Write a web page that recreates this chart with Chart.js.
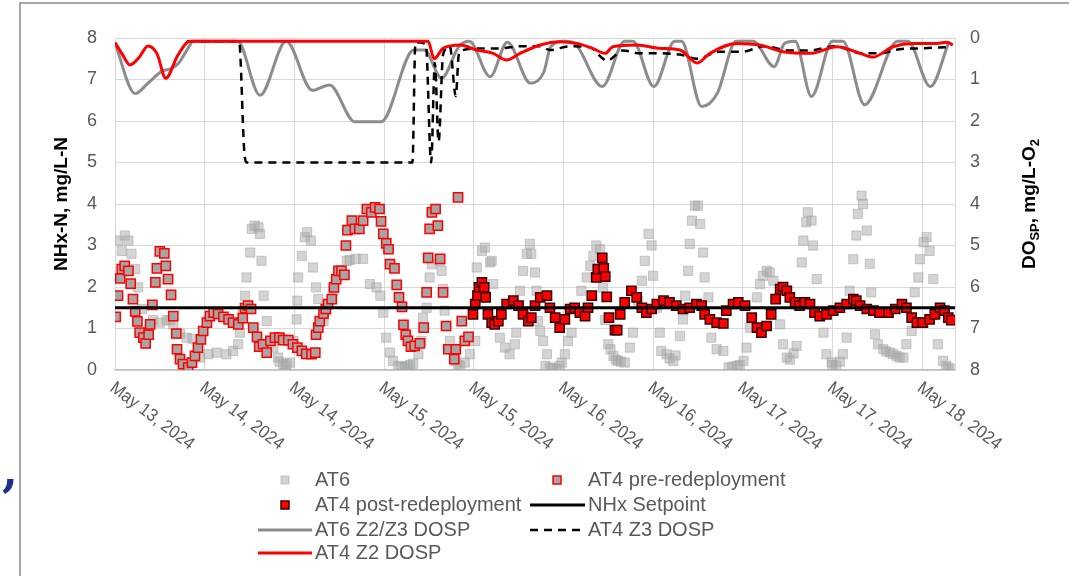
<!DOCTYPE html>
<html>
<head>
<meta charset="utf-8">
<script src="https://cdn.jsdelivr.net/npm/chart.js@4.4.1/dist/chart.umd.min.js"></script>
<style>
  html, body { margin: 0; padding: 0; background: #fff; }
  canvas { display: block; }
</style>
</head>
<body>
<canvas id="myChart" width="1069" height="576"></canvas>
<script>
// x values are hours after May 13, 2024 12:00
const tickHours = [0, 12, 24, 36, 48, 60, 72, 84, 96, 108];
const tickLabels = ["May 13, 2024", "May 14, 2024", "May 14, 2024", "May 15, 2024", "May 15, 2024",
                    "May 16, 2024", "May 16, 2024", "May 17, 2024", "May 17, 2024", "May 18, 2024"];
const xMax = 112.4;
const yTicks = [0, 1, 2, 3, 4, 5, 6, 7, 8];

// NHx-N, mg/L-N  [hour, value]
const at6 = [
  [0.4,3.12],[0.9,2.87],[1.3,3.24],[1.8,3.12],[2.2,2.8],[2.7,2.43],[3.1,1.99],[3.6,1.47],
  [5.1,1.2],[6.0,1.14],[6.9,1.2],[7.4,1.2],[7.8,1.1],[8.7,0.87],[9.6,0.78],[10.4,0.75],
  [11.4,0.3],[12.5,0.38],[13.6,0.42],[14.9,0.38],[15.8,0.46],[16.5,0.62],[16.7,0.9],[17.1,1.38],
  [17.4,1.79],[17.6,2.23],[18.1,2.83],[18.3,3.4],[18.7,3.48],[19.2,3.44],[19.4,3.28],[19.6,2.63],
  [19.9,1.79],[20.3,1.18],[21.2,0.54],[21.8,0.3],[22.0,0.2],[22.5,0.14],[22.8,0.1],[23.0,0.15],
  [23.4,0.18],[23.9,0.7],[24.3,1.22],[24.4,1.67],[24.5,2.23],[25.0,2.75],[25.4,3.2],[25.7,3.32],
  [26.2,3.12],[26.5,2.47],[26.9,1.99],[27.2,1.71],[27.9,1.18],[28.3,1.43],[28.6,1.59],[29.2,1.9],
  [30.1,2.3],[31.0,2.63],[31.4,2.65],[32.2,2.68],[33.2,2.68],[34.1,2.07],[35.0,1.99],[35.5,1.79],
  [35.9,1.38],[36.3,0.78],[36.8,0.42],[37.2,0.22],[37.9,0.1],[38.3,0.08],[38.8,0.06],[39.2,0.1],
  [39.5,0.12],[39.9,0.15],[40.6,0.38],[41.0,0.7],[41.2,1.26],[41.7,1.5],[42.1,2.23],[42.4,2.55],
  [43.5,2.63],[43.7,2.39],[43.9,1.95],[44.1,1.43],[44.8,0.7],[45.5,0.22],[45.9,0.12],[46.2,0.1],
  [46.8,0.18],[47.5,0.38],[48.2,0.7],[48.4,2.47],[49.1,2.87],[49.5,2.95],[50.2,2.59],[50.4,2.63],
  [50.6,2.07],[51.5,0.78],[52.2,0.54],[52.8,0.38],[53.5,0.62],[53.7,0.9],[54.2,1.91],[54.6,2.39],
  [55.1,2.8],[55.5,3.04],[55.7,2.8],[56.2,2.35],[56.4,1.91],[56.6,1.18],[56.9,0.94],[57.3,0.7],
  [57.6,0.1],[57.8,0.38],[58.2,0.06],[58.6,0.04],[59.1,0.02],[59.5,0.1],[59.8,0.18],[60.2,0.38],
  [60.6,0.7],[61.1,0.9],[62.4,1.91],[63.1,2.23],[63.6,2.51],[64.0,2.75],[64.4,3.0],[64.9,2.91],
  [65.3,1.99],[65.6,1.2],[66.0,0.62],[66.3,0.5],[66.7,0.34],[67.0,0.25],[67.3,0.22],[67.7,0.2],
  [68.2,0.18],[68.9,0.54],[69.3,0.9],[70.0,1.67],[70.5,2.15],[70.9,2.63],[71.4,3.28],[71.8,3.0],
  [72.0,2.27],[72.5,1.5],[72.9,0.9],[73.1,0.46],[73.8,0.38],[74.2,0.28],[74.7,0.22],[75.0,0.35],
  [75.6,0.82],[76.0,1.22],[76.3,1.79],[76.7,2.39],[76.9,3.04],[77.2,3.6],[77.6,3.96],[78.0,3.96],
  [78.3,3.52],[78.7,2.83],[78.9,2.23],[79.4,1.75],[79.8,0.78],[80.5,0.5],[81.4,0.46],[82.1,0.06],
  [82.6,0.08],[83.2,0.1],[83.6,0.12],[84.1,0.22],[84.5,0.54],[85.0,1.02],[85.9,1.75],[86.3,2.07],
  [86.7,2.27],[87.2,2.39],[87.6,2.35],[88.1,2.15],[89.0,1.1],[89.4,0.62],[89.9,0.3],[90.3,0.25],
  [90.8,0.4],[91.2,0.58],[91.9,2.59],[92.1,3.12],[92.5,3.56],[92.7,3.8],[93.2,3.6],[93.4,3.0],
  [93.9,2.19],[94.3,1.34],[94.8,0.9],[95.2,0.38],[95.9,0.18],[96.0,0.12],[96.5,0.1],[97.0,0.2],
  [97.4,0.38],[97.9,0.78],[98.3,1.91],[98.8,2.67],[99.2,3.24],[99.4,3.76],[99.9,4.2],[100.1,4.0],
  [100.6,3.36],[101.0,2.56],[101.2,1.87],[101.7,0.86],[102.1,0.62],[102.8,0.5],[103.2,0.45],[103.7,0.42],
  [104.1,0.38],[104.6,0.34],[105.0,0.3],[105.5,0.3],[105.9,0.62],[106.6,0.94],[107.0,1.87],[107.5,2.23],
  [107.7,2.67],[108.2,3.08],[108.6,3.2],[109.0,2.87],[109.5,2.19],[109.8,1.34],[110.1,0.62],[110.8,0.22],
  [111.2,0.1],[111.5,0.06],[112.0,0.02]
];

const at4Pre = [
  [0.1,1.28],[0.4,1.79],[0.7,2.21],[0.9,2.43],[1.3,2.51],[1.8,2.39],[2.1,2.08],[2.4,1.71],
  [2.7,1.41],[3.0,1.17],[3.3,0.9],[3.8,0.78],[4.1,0.64],[4.5,0.85],[4.7,1.1],[5.0,1.57],
  [5.4,2.11],[5.6,2.45],[6.0,2.86],[6.6,2.81],[6.8,2.51],[7.1,2.19],[7.5,1.81],[7.8,1.3],
  [8.2,0.88],[8.3,0.5],[8.7,0.26],[9.1,0.14],[9.8,0.06],[10.3,0.18],[10.7,0.34],[11.1,0.54],
  [11.5,0.74],[11.8,0.94],[12.3,1.14],[12.7,1.3],[13.2,1.38],[13.8,1.35],[14.5,1.28],[15.2,1.22],
  [15.8,1.14],[16.5,1.1],[17.1,1.25],[17.4,1.49],[17.8,1.55],[18.2,1.47],[18.5,1.02],[19.0,0.8],
  [19.3,0.56],[19.8,0.62],[20.3,0.42],[20.8,0.7],[21.4,0.78],[22.0,0.78],[22.5,0.72],[23.2,0.72],
  [23.8,0.62],[24.4,0.54],[25.0,0.46],[25.6,0.39],[26.3,0.38],[26.8,0.42],[26.9,0.85],[27.2,1.02],
  [27.4,1.18],[27.9,1.36],[28.2,1.47],[28.5,1.59],[29.0,1.71],[29.3,1.99],[29.6,2.19],[29.9,2.39],
  [30.3,2.39],[30.7,2.29],[30.9,3.0],[31.1,3.37],[31.7,3.6],[32.1,3.4],[32.7,3.4],[33.2,3.6],
  [33.7,3.88],[34.3,3.8],[34.8,3.92],[35.4,3.88],[35.6,3.58],[35.9,3.28],[36.3,3.05],[36.6,2.91],
  [36.8,2.55],[37.4,2.45],[37.7,2.05],[38.0,1.75],[38.4,1.52],[38.6,1.09],[38.9,0.85],[39.2,0.7],
  [39.6,0.56],[40.1,0.58],[40.8,0.64],[41.3,1.02],[41.7,1.87],[41.9,2.7],[42.1,3.4],[42.4,3.8],
  [42.9,3.88],[43.2,3.48],[43.5,2.68],[43.9,1.87],[44.3,1.06],[44.6,0.5],[45.4,0.26],[45.6,0.5],
  [45.9,4.16],[46.4,1.18],[46.8,0.7],[47.3,0.8]
];

const at4Post = [
  [47.9,1.34],[48.2,1.59],[48.5,1.79],[48.7,1.99],[49.1,2.11],[49.4,1.99],[49.6,1.75],[49.9,1.34],
  [50.4,1.14],[50.8,1.1],[51.3,1.18],[51.7,1.34],[52.4,1.59],[53.3,1.67],[54.0,1.55],[54.6,1.34],
  [55.3,1.18],[55.7,1.26],[56.2,1.55],[56.9,1.75],[57.8,1.79],[58.2,1.5],[58.9,1.26],[59.5,1.02],
  [60.2,1.22],[60.9,1.47],[61.5,1.5],[62.2,1.38],[62.9,1.3],[63.3,1.5],[63.8,1.79],[64.4,2.23],
  [64.6,2.43],[65.2,2.7],[65.4,2.45],[65.6,2.25],[65.8,1.76],[66.1,1.26],[66.9,0.96],[67.2,0.96],
  [67.6,1.34],[68.2,1.63],[69.1,1.91],[69.8,1.75],[70.5,1.5],[71.1,1.38],[71.8,1.47],[72.5,1.59],
  [73.4,1.67],[74.2,1.63],[75.1,1.55],[76.0,1.47],[76.9,1.5],[77.8,1.59],[78.5,1.55],[78.9,1.34],
  [79.6,1.22],[80.5,1.14],[81.4,1.12],[81.8,1.43],[82.7,1.59],[83.4,1.63],[84.3,1.55],[85.2,1.26],
  [85.9,1.02],[86.5,0.9],[87.2,1.06],[87.8,1.34],[88.4,1.71],[89.0,1.95],[89.4,2.0],[89.9,1.91],
  [90.3,1.75],[91.0,1.63],[91.6,1.55],[92.3,1.63],[93.0,1.59],[93.6,1.38],[94.3,1.3],[95.2,1.34],
  [96.1,1.43],[97.0,1.5],[97.9,1.59],[98.8,1.71],[99.2,1.67],[99.7,1.55],[100.6,1.47],[101.5,1.43],
  [102.3,1.38],[103.5,1.38],[104.4,1.47],[105.3,1.59],[105.9,1.5],[106.6,1.26],[107.3,1.14],[108.1,1.14],
  [109.0,1.22],[109.7,1.34],[110.4,1.5],[111.0,1.43],[111.5,1.26],[111.9,1.2]
];

const setpoint = [[0,1.5],[112.4,1.5]];

// DO setpoints, mg/L-O2 (right axis, reversed)
const at6Do = [
  [0,0.13],[2.7,1.34],[4.4,1.09],[6.2,0.81],[7.6,0.73],[8.5,0.61],[9.9,0.21],[10.4,0.08],
  [16.4,0.08],[19.4,1.38],[22.9,0.08],[26.4,1.26],[28.7,1.13],[32.1,2.02],[35.6,2.02],[40.0,0.29],
  [41.4,0.29],[43.7,0.97],[46.0,0.21],[47.4,0.08],[50.2,0.93],[52.5,0.1],[55.6,1.09],[57.4,0.81],
  [58.3,0.21],[60.2,0.08],[61.5,0.13],[65.2,1.17],[68.2,0.08],[69.3,0.08],[72.1,1.17],[74.9,0.08],
  [75.8,0.08],[78.5,1.65],[80.6,1.33],[83.1,0.08],[85.4,0.08],[88.2,0.69],[89.6,0.13],[91.0,0.08],
  [93.2,1.41],[96.0,0.08],[97.4,0.08],[100.3,1.61],[104.7,0.08],[106.1,0.08],[109.1,1.17],[111.6,0.08]
];

const at4Z3Do = [
  [9.6,0.08],[16.6,0.08],[17.3,2.74],[17.6,3.0],[39.8,3.0],[40.2,0.1],[41.6,0.15],[42.3,3.0],
  [42.8,0.6],[43.3,2.5],[43.9,0.4],[44.8,0.2],[45.6,1.4],[46.0,0.4],[46.4,0.3],[48.8,0.25],
  [51.5,0.25],[54.2,0.2],[56.9,0.2],[58.2,0.29],[60.9,0.2],[63.5,0.22],[65.3,0.5],[65.8,0.55],
  [68.0,0.3],[70.2,0.37],[72.9,0.37],[75.6,0.4],[77.9,0.5],[80.9,0.33],[83.9,0.33],[86.9,0.2],
  [90.3,0.3],[93.0,0.3],[96.3,0.2],[100.0,0.37],[102.3,0.37],[105.0,0.27],[107.7,0.25],[111.4,0.22]
];

const at4Z2Do = [
  [0,0.11],[1.0,0.4],[2.0,0.65],[3.3,0.45],[4.4,0.19],[5.6,0.37],[6.8,0.97],[8.3,0.45],
  [9.6,0.11],[10.0,0.08],[41.9,0.08],[42.7,0.5],[43.9,0.25],[46.2,0.17],[48.4,0.29],[50.6,0.37],
  [52.4,0.53],[54.2,0.37],[56.9,0.17],[59.5,0.09],[61.8,0.13],[63.9,0.25],[65.6,0.37],[66.6,0.21],
  [69.8,0.17],[72.9,0.25],[75.6,0.29],[77.9,0.6],[79.6,0.37],[83.2,0.13],[86.3,0.17],[89.4,0.33],
  [93.0,0.37],[96.6,0.21],[99.7,0.37],[101.4,0.46],[104.1,0.21],[106.8,0.13],[110.0,0.13],[111.3,0.1],
  [112.1,0.17]
];

const FONT = '"Liberation Sans", Arial, sans-serif';
const pts = a => a.map(p => ({ x: p[0], y: p[1] }));

const extras = {
  id: 'extras',
  afterDraw(chart) {
    const ctx = chart.ctx;
    const xs = chart.scales.x;
    const area = chart.chartArea;
    ctx.save();

    // outer frame
    ctx.strokeStyle = '#a6a6a6';
    ctx.lineWidth = 2;
    ctx.beginPath();
    ctx.moveTo(20, 576); ctx.lineTo(20, 3); ctx.lineTo(1069, 3);
    ctx.stroke();

    // stray mark at left
    ctx.fillStyle = '#1f2f8f';
    ctx.font = 'bold 46px "DejaVu Serif", serif';
    ctx.textAlign = 'left';
    ctx.textBaseline = 'alphabetic';
    ctx.fillText(',', 2, 486);

    // rotated date labels
    ctx.fillStyle = '#595959';
    ctx.font = '18px ' + FONT;
    ctx.textAlign = 'left';
    ctx.textBaseline = 'middle';
    tickHours.forEach((h, i) => {
      const px = xs.getPixelForValue(h);
      ctx.save();
      ctx.translate(px - 3, area.bottom + 16);
      ctx.rotate(37 * Math.PI / 180);
      ctx.scale(0.92, 1);
      ctx.fillText(tickLabels[i], 0, 0);
      ctx.restore();
    });

    // axis titles
    ctx.fillStyle = '#000';
    ctx.font = 'bold 19px ' + FONT;
    ctx.textAlign = 'center';
    ctx.save();
    ctx.translate(62, (area.top + area.bottom) / 2);
    ctx.rotate(-Math.PI / 2);
    ctx.fillText('NHx-N, mg/L-N', 0, 0);
    ctx.restore();

    const parts = [['DO', false], ['SP', true], [', mg/L-O', false], ['2', true]];
    const big = 'bold 19px ' + FONT, small = 'bold 13px ' + FONT;
    let total = 0;
    parts.forEach(p => { ctx.font = p[1] ? small : big; total += ctx.measureText(p[0]).width; });
    ctx.save();
    ctx.translate(1030, (area.top + area.bottom) / 2);
    ctx.rotate(-Math.PI / 2);
    ctx.textAlign = 'left';
    let cx = -total / 2;
    parts.forEach(p => {
      ctx.font = p[1] ? small : big;
      ctx.fillText(p[0], cx, p[1] ? 5 : 0);
      cx += ctx.measureText(p[0]).width;
    });
    ctx.restore();

    // legend
    const rowsY = [480, 505, 530, 553];
    const markX = [285, 557], lineX = [[258, 312], [530, 585]], textX = [315, 588];
    ctx.font = '20px ' + FONT;
    ctx.textBaseline = 'middle';
    chart.data.datasets.forEach((ds, i) => {
      const col = i % 2, y = rowsY[Math.floor(i / 2)];
      if (ds.showLine) {
        ctx.save();
        ctx.strokeStyle = ds.borderColor;
        ctx.lineWidth = ds.borderWidth;
        ctx.setLineDash(ds.borderDash || []);
        ctx.beginPath();
        ctx.moveTo(lineX[col][0], y); ctx.lineTo(lineX[col][1], y);
        ctx.stroke();
        ctx.restore();
      } else {
        const s = 8;
        ctx.fillStyle = ds.backgroundColor;
        ctx.fillRect(markX[col] - s / 2, y - s / 2, s, s);
        if (ds.borderWidth) {
          ctx.strokeStyle = ds.borderColor;
          ctx.lineWidth = ds.borderWidth;
          ctx.strokeRect(markX[col] - s / 2, y - s / 2, s, s);
        }
      }
      ctx.fillStyle = '#595959';
      ctx.textAlign = 'left';
      ctx.fillText(ds.label, textX[col], y);
    });
    ctx.restore();
  }
};

new Chart('myChart', {
  type: 'scatter',
  data: {
    datasets: [
      {
        label: 'AT6',
        data: pts(at6),
        yAxisID: 'y',
        pointStyle: 'rect',
        pointRadius: 6.5,
        backgroundColor: 'rgba(170,170,170,0.5)',
        borderColor: 'rgba(160,160,160,0.5)',
        borderWidth: 1,
        order: 6,
      },
      {
        label: 'AT4 pre-redeployment',
        data: pts(at4Pre),
        yAxisID: 'y',
        pointStyle: 'rect',
        pointRadius: 6.5,
        backgroundColor: '#a5a5a5',
        borderColor: '#ff0000',
        borderWidth: 1.5,
        order: 5,
      },
      {
        label: 'AT4 post-redeployment',
        data: pts(at4Post),
        yAxisID: 'y',
        pointStyle: 'rect',
        pointRadius: 6.5,
        backgroundColor: '#ff0000',
        borderColor: '#3a0000',
        borderWidth: 1.5,
        order: 4,
      },
      {
        label: 'NHx Setpoint',
        data: pts(setpoint),
        yAxisID: 'y',
        showLine: true,
        pointRadius: 0,
        borderColor: '#000000',
        borderWidth: 3,
        order: 0,
      },
      {
        label: 'AT6 Z2/Z3 DOSP',
        data: pts(at6Do),
        yAxisID: 'y2',
        showLine: true,
        pointRadius: 0,
        borderColor: '#8c8c8c',
        borderWidth: 3,
        tension: 0.3,
        cubicInterpolationMode: 'monotone',
        order: 3,
      },
      {
        label: 'AT4 Z3 DOSP',
        data: pts(at4Z3Do),
        yAxisID: 'y2',
        showLine: true,
        pointRadius: 0,
        borderColor: '#000000',
        borderWidth: 2.5,
        borderDash: [8, 6],
        tension: 0.3,
        cubicInterpolationMode: 'monotone',
        order: 2,
      },
      {
        label: 'AT4 Z2 DOSP',
        data: pts(at4Z2Do),
        yAxisID: 'y2',
        showLine: true,
        pointRadius: 0,
        borderColor: '#ff0000',
        borderWidth: 3,
        tension: 0.3,
        cubicInterpolationMode: 'monotone',
        order: 1,
      },
    ],
  },
  options: {
    responsive: false,
    animation: false,
    devicePixelRatio: 1,
    layout: { padding: { top: 38, left: 0, right: 0, bottom: 0 } },
    plugins: { legend: { display: false }, tooltip: { enabled: false } },
    scales: {
      x: {
        type: 'linear',
        min: 0,
        max: xMax,
        ticks: { display: false },
        grid: { color: '#d9d9d9', lineWidth: 1, drawTicks: false },
        border: { color: '#bfbfbf', width: 1.5 },
        afterBuildTicks: s => { s.ticks = tickHours.concat([xMax]).map(v => ({ value: v })); },
        afterFit: s => { s.height = 206; },
      },
      y: {
        position: 'left',
        min: 0,
        max: 8,
        afterBuildTicks: s => { s.ticks = yTicks.map(v => ({ value: v })); },
        ticks: { color: '#595959', font: { size: 18, family: FONT }, padding: 18 },
        grid: { color: '#d9d9d9', lineWidth: 1, drawTicks: false },
        border: { color: '#d9d9d9' },
        afterFit: s => { s.width = 115; },
      },
      y2: {
        position: 'right',
        min: 0,
        max: 8,
        reverse: true,
        afterBuildTicks: s => { s.ticks = yTicks.map(v => ({ value: v })); },
        ticks: { color: '#595959', font: { size: 18, family: FONT }, padding: 15 },
        grid: { display: false, drawTicks: false },
        border: { color: '#d9d9d9' },
        afterFit: s => { s.width = 114; },
      },
    },
  },
  plugins: [extras],
});
</script>
</body>
</html>
